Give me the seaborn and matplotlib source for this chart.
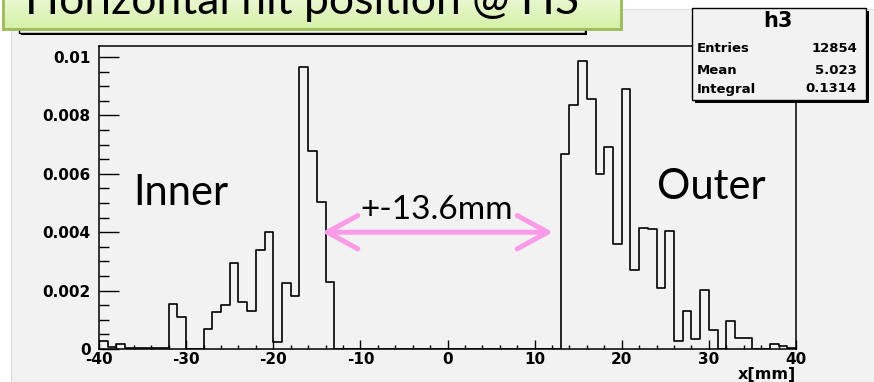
import numpy as np
import pandas as pd
import seaborn as sns
import matplotlib.pyplot as plt
from matplotlib.patches import Rectangle
from matplotlib.ticker import MultipleLocator

# data (h3, 1 mm bins from -40 to 40)
bin_edges = list(range(-40, 41))
hit_density = [
    0.00028, 0.00008, 0.00016, 0.00002, 0.00002, 0.00002, 0.00002, 0.00002,   # -40 .. -33
    0.00154, 0.00108, 0.0, 0.0, 0.00068, 0.00127, 0.00151, 0.00294,          # -32 .. -25
    0.00162, 0.00130, 0.00338, 0.00402, 0.00025, 0.00225, 0.00183, 0.00967,  # -24 .. -17
    0.00677, 0.00505, 0.00228,                                               # -16 .. -14
    0.0, 0.0, 0.0, 0.0, 0.0, 0.0, 0.0, 0.0, 0.0, 0.0, 0.0, 0.0, 0.0,         # -13 .. -1
    0.0, 0.0, 0.0, 0.0, 0.0, 0.0, 0.0, 0.0, 0.0, 0.0, 0.0, 0.0, 0.0,         # 0 .. 12
    0.00667, 0.00837, 0.00986, 0.00855, 0.00598, 0.00693, 0.00361, 0.00890,  # 13 .. 20
    0.00271, 0.00413, 0.00410, 0.00208, 0.00405, 0.00026, 0.00131, 0.00034,  # 21 .. 28
    0.00202, 0.00065, 0.0, 0.00095, 0.00039, 0.00036, 0.0, 0.0,              # 29 .. 36
    0.00016, 0.00010, 0.00002,                                               # 37 .. 39
]
x_ticks = [-40, -30, -20, -10, 0, 10, 20, 30, 40]
x_tick_labels = ['-40', '-30', '-20', '-10', '0', '10', '20', '30', '40']
y_ticks = [0, 0.002, 0.004, 0.006, 0.008, 0.01]
y_tick_labels = ['0', '0.002', '0.004', '0.006', '0.008', '0.01']
stats_names = ['Entries', 'Mean', 'Integral']
stats_values = ['12854', '5.023', '0.1314']
title = 'Horizontal hit position @ HS'

df = pd.DataFrame({'x': np.array(bin_edges[:-1]) + 0.5, 'w': hit_density})

W, H = 874, 382
def fx(px):
    return px / W
def fy(py):
    return 1 - py / H

sns.set_style('ticks')
plt.rcParams['font.family'] = ['DejaVu Sans']
plt.rcParams['text.color'] = 'black'
plt.rcParams['axes.labelcolor'] = 'black'
bg = '#f2f2f2'

fig = plt.figure(figsize=(8.74, 3.82), dpi=100, facecolor='white')
fig.patches.append(Rectangle((fx(11), 0), 1, fy(9), transform=fig.transFigure,
                             facecolor=bg, edgecolor='#dddddd', lw=0.8, zorder=-1))

ax = fig.add_axes([fx(99), fy(349), fx(796) - fx(99), fy(46) - fy(349)])
ax.set_facecolor(bg)

sns.histplot(data=df, x='x', weights='w', binwidth=1, binrange=(-40, 40), element='step',
             fill=False, color='black', linewidth=1.2, ax=ax)

ax.set_xlim(-40, 40)
ax.set_ylim(0, 0.010377)
ax.set_xticks(x_ticks, x_tick_labels)
ax.set_yticks(y_ticks, y_tick_labels)
ax.xaxis.set_minor_locator(MultipleLocator(2))
ax.yaxis.set_minor_locator(MultipleLocator(0.0005))
for s in ax.spines.values():
    s.set_linewidth(1.1)
    s.set_color('black')
ax.tick_params(axis='both', which='both', direction='in', width=1, colors='black',
               top=False, right=False)
ax.tick_params(axis='x', which='major', length=6.5, pad=2, labelsize=11)
ax.tick_params(axis='x', which='minor', length=3.2)
ax.tick_params(axis='y', which='major', length=14.4, pad=6, labelsize=11)
ax.tick_params(axis='y', which='minor', length=7.2)
for lab in ax.get_xticklabels() + ax.get_yticklabels():
    lab.set_fontweight('bold')
ax.set_ylabel('')
ax.set_xlabel('x[mm]', loc='right', fontweight='bold', fontsize=11.5, labelpad=0)

# slide annotations
ax.text(-36.1, 0.00534, 'Inner', family='Lato', fontsize=30, va='center', ha='left', color='black')
ax.text(24.0, 0.00555, 'Outer', family='Lato', fontsize=30, va='center', ha='left', color='black')
ax.text(-1.2, 0.00476, '+-13.6mm', family='Lato', fontsize=24, va='center', ha='center',
        color='black')
ax.annotate('', xy=(12.1, 0.004), xytext=(-14.4, 0.004),
            arrowprops=dict(arrowstyle='<->,head_length=1.1,head_width=0.6', color='#f99be6',
                            lw=3.6, shrinkA=0, shrinkB=0, mutation_scale=20,
                            capstyle='round', joinstyle='round'))

# ROOT title pave (behind the green box)
fig.patches.append(Rectangle((fx(21), fy(35)), fx(585) - fx(19), fy(12) - fy(33),
                             transform=fig.transFigure, facecolor='black', lw=0, zorder=1))
fig.patches.append(Rectangle((fx(19), fy(33)), fx(585) - fx(19), fy(10) - fy(33),
                             transform=fig.transFigure, facecolor=bg, edgecolor='black',
                             lw=1, zorder=1))

# stats box
fig.patches.append(Rectangle((fx(695), fy(103)), fx(866) - fx(692), fy(8) - fy(100),
                             transform=fig.transFigure, facecolor='black', lw=0, zorder=1))
fig.patches.append(Rectangle((fx(692), fy(100)), fx(866) - fx(692), fy(8) - fy(100),
                             transform=fig.transFigure, facecolor=bg, edgecolor='black',
                             lw=1, zorder=1))
fig.lines.append(plt.Line2D([fx(692), fx(866)], [fy(33), fy(33)], transform=fig.transFigure,
                            color='black', lw=1, zorder=1))
fig.text(fx(778), fy(21), 'h3', ha='center', va='center', fontsize=15, fontweight='bold')
for name, val, py in zip(stats_names, stats_values, [49, 71, 89]):
    fig.text(fx(697), fy(py), name, ha='left', va='center', fontsize=9.5, fontweight='bold')
    fig.text(fx(857), fy(py), val, ha='right', va='center', fontsize=9.5, fontweight='bold')

# green slide title box
tax = fig.add_axes([fx(3), fy(29), fx(621) - fx(3), fy(-8) - fy(29)], zorder=2)
grad = np.linspace(0, 1, 64).reshape(-1, 1)
tax.imshow(grad, aspect='auto', cmap=sns.blend_palette(['#eef9dc', '#d5f1a6'], as_cmap=True),
           extent=(0, 1, 0, 1), origin='upper')
tax.set_xticks([])
tax.set_yticks([])
for s in tax.spines.values():
    s.set_color('#9bbb59')
    s.set_linewidth(2)
fig.text(fx(25), fy(14), title, family='Lato', fontsize=32, va='baseline', ha='left', zorder=5)

fig.savefig('out.png', dpi=100)
